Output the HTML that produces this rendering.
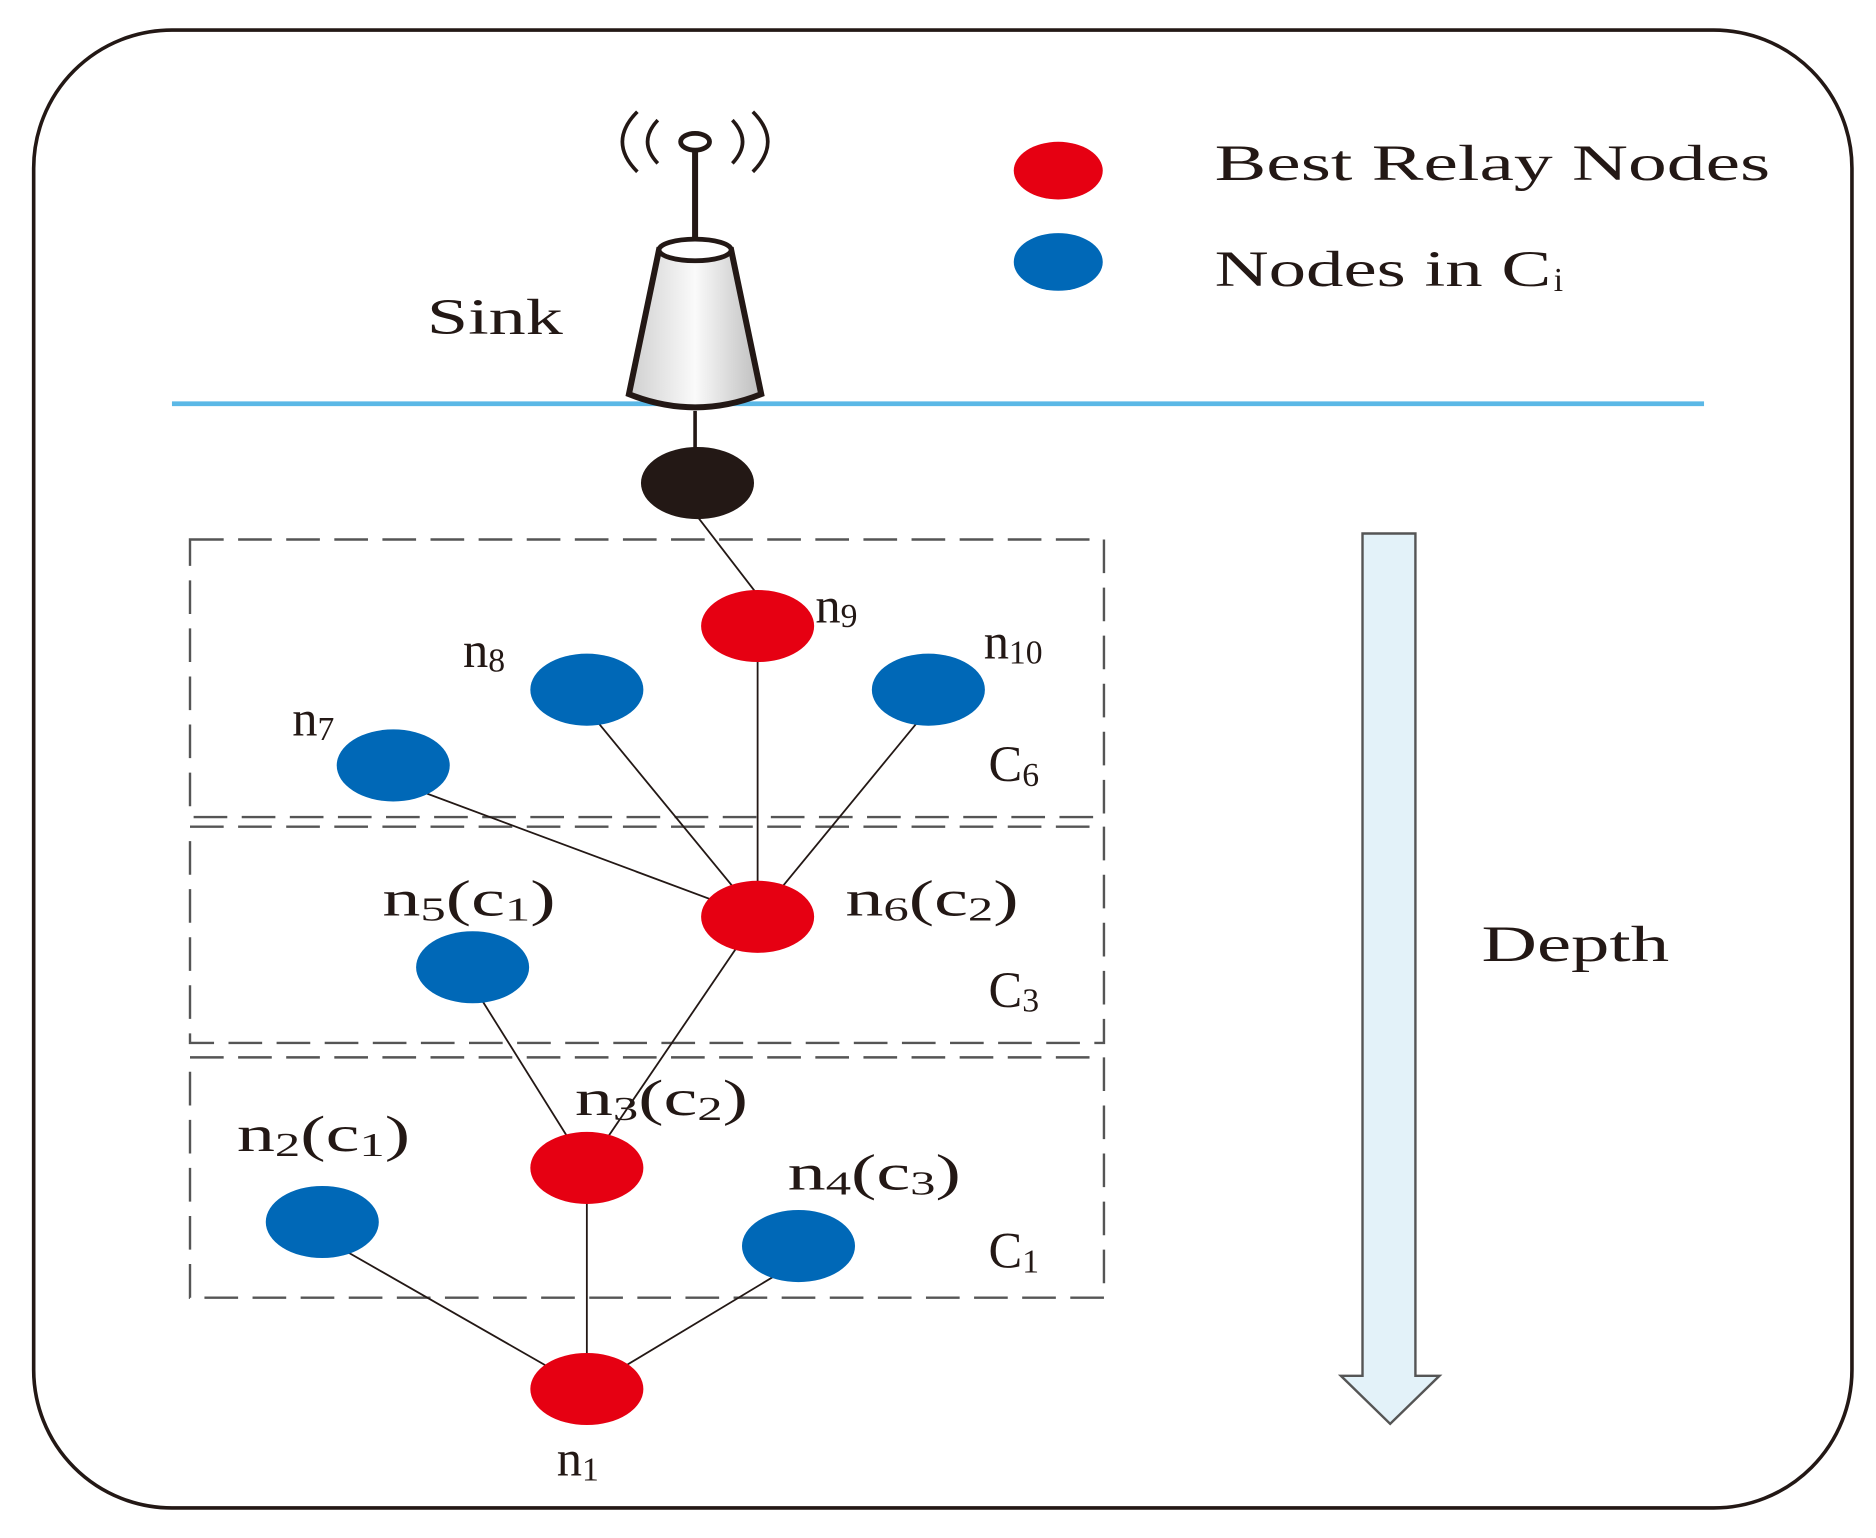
<!DOCTYPE html>
<html><head><meta charset="utf-8"><style>html,body{margin:0;padding:0;background:#fff}svg{display:block}</style></head>
<body>
<svg width="1876" height="1538" viewBox="0 0 1560 1280" preserveAspectRatio="none" xmlns="http://www.w3.org/2000/svg" font-family="Liberation Serif, serif" fill="#231815">
<defs><linearGradient id="g" x1="0" x2="1"><stop offset="0" stop-color="#cfcfcf"/><stop offset="0.5" stop-color="#fafafa"/><stop offset="1" stop-color="#bdbdbd"/></linearGradient></defs>
<rect x="28" y="25" width="1512" height="1230" rx="115" fill="none" stroke="#231815" stroke-width="3"/>
<line x1="143" y1="336" x2="1417" y2="336" stroke="#5bb8e6" stroke-width="4"/>
<g fill="none" stroke="#231815" stroke-width="3">
<path d="M530 93 Q505 118 530 143"/><path d="M547 100 Q530 118 547 136"/>
<path d="M626 93 Q651 118 626 143"/><path d="M609 100 Q626 118 609 136"/>
</g>
<ellipse cx="578" cy="118" rx="12" ry="7" fill="none" stroke="#231815" stroke-width="4"/>
<line x1="578" y1="125" x2="578" y2="203" stroke="#231815" stroke-width="5"/>
<path d="M548 208 L523 328 Q578 350 633 328 L608 208 Z" fill="url(#g)" stroke="#231815" stroke-width="5"/>
<ellipse cx="578" cy="208" rx="30" ry="9" fill="#fff" stroke="#231815" stroke-width="4"/>
<line x1="578" y1="342" x2="578" y2="376" stroke="#231815" stroke-width="3"/>
<g fill="none" stroke="#555" stroke-width="2" stroke-dasharray="28 12">
<rect x="158" y="449" width="760" height="231"/>
<rect x="158" y="688" width="760" height="180"/>
<rect x="158" y="880" width="760" height="200"/>
</g>
<g stroke="#231815" stroke-width="1.5">
<line x1="580" y1="430" x2="630" y2="495"/>
<line x1="630" y1="521" x2="630" y2="763"/>
<line x1="488" y1="590" x2="630" y2="763"/>
<line x1="772" y1="590" x2="630" y2="763"/>
<line x1="327" y1="650" x2="630" y2="763"/>
<line x1="630" y1="763" x2="488" y2="972"/>
<line x1="393" y1="820" x2="488" y2="972"/>
<line x1="488" y1="972" x2="488" y2="1156"/>
<line x1="268" y1="1030" x2="488" y2="1156"/>
<line x1="664" y1="1050" x2="488" y2="1156"/>
</g>
<ellipse cx="580" cy="402" rx="47" ry="30" fill="#231815"/>
<g fill="#e60012">
<ellipse cx="630" cy="521" rx="47" ry="30"/><ellipse cx="630" cy="763" rx="47" ry="30"/>
<ellipse cx="488" cy="972" rx="47" ry="30"/><ellipse cx="488" cy="1156" rx="47" ry="30"/>
<ellipse cx="880" cy="142" rx="37" ry="24"/>
</g>
<g fill="#0068b7">
<ellipse cx="488" cy="574" rx="47" ry="30"/><ellipse cx="772" cy="574" rx="47" ry="30"/>
<ellipse cx="327" cy="637" rx="47" ry="30"/><ellipse cx="393" cy="805" rx="47" ry="30"/>
<ellipse cx="268" cy="1017" rx="47" ry="30"/><ellipse cx="664" cy="1037" rx="47" ry="30"/>
<ellipse cx="880" cy="218" rx="37" ry="24"/>
</g>
<path d="M1133 444 L1177 444 L1177 1145 L1197 1145 L1156 1185 L1115 1145 L1133 1145 Z" fill="#e3f2f9" stroke="#555" stroke-width="2"/>
<g font-size="42">
<text x="1010" y="150" textLength="462" lengthAdjust="spacingAndGlyphs">Best Relay Nodes</text>
<text x="1010" y="238" textLength="280" lengthAdjust="spacingAndGlyphs">Nodes in C</text>
<text x="1292" y="242" font-size="28">i</text>
<text x="355" y="278" textLength="113" lengthAdjust="spacingAndGlyphs">Sink</text>
<text x="1232" y="800" textLength="156" lengthAdjust="spacingAndGlyphs">Depth</text>
<text x="678" y="518">n<tspan font-size="28" dy="4">9</tspan></text>
<text x="385" y="555">n<tspan font-size="28" dy="4">8</tspan></text>
<text x="818" y="548">n<tspan font-size="28" dy="4">10</tspan></text>
<text x="243" y="612">n<tspan font-size="28" dy="4">7</tspan></text>
<text x="822" y="650">C<tspan font-size="28" dy="4">6</tspan></text>
<text x="318" y="762" textLength="144" lengthAdjust="spacingAndGlyphs">n<tspan font-size="28" dy="4">5</tspan><tspan dy="-4">(c</tspan><tspan font-size="28" dy="4">1</tspan><tspan dy="-4">)</tspan></text>
<text x="703" y="762" textLength="144" lengthAdjust="spacingAndGlyphs">n<tspan font-size="28" dy="4">6</tspan><tspan dy="-4">(c</tspan><tspan font-size="28" dy="4">2</tspan><tspan dy="-4">)</tspan></text>
<text x="822" y="838">C<tspan font-size="28" dy="4">3</tspan></text>
<text x="478" y="928" textLength="144" lengthAdjust="spacingAndGlyphs">n<tspan font-size="28" dy="4">3</tspan><tspan dy="-4">(c</tspan><tspan font-size="28" dy="4">2</tspan><tspan dy="-4">)</tspan></text>
<text x="197" y="958" textLength="144" lengthAdjust="spacingAndGlyphs">n<tspan font-size="28" dy="4">2</tspan><tspan dy="-4">(c</tspan><tspan font-size="28" dy="4">1</tspan><tspan dy="-4">)</tspan></text>
<text x="655" y="990" textLength="144" lengthAdjust="spacingAndGlyphs">n<tspan font-size="28" dy="4">4</tspan><tspan dy="-4">(c</tspan><tspan font-size="28" dy="4">3</tspan><tspan dy="-4">)</tspan></text>
<text x="822" y="1055">C<tspan font-size="28" dy="4">1</tspan></text>
<text x="463" y="1228">n<tspan font-size="28" dy="4">1</tspan></text>
</g>
</svg>
</body></html>
